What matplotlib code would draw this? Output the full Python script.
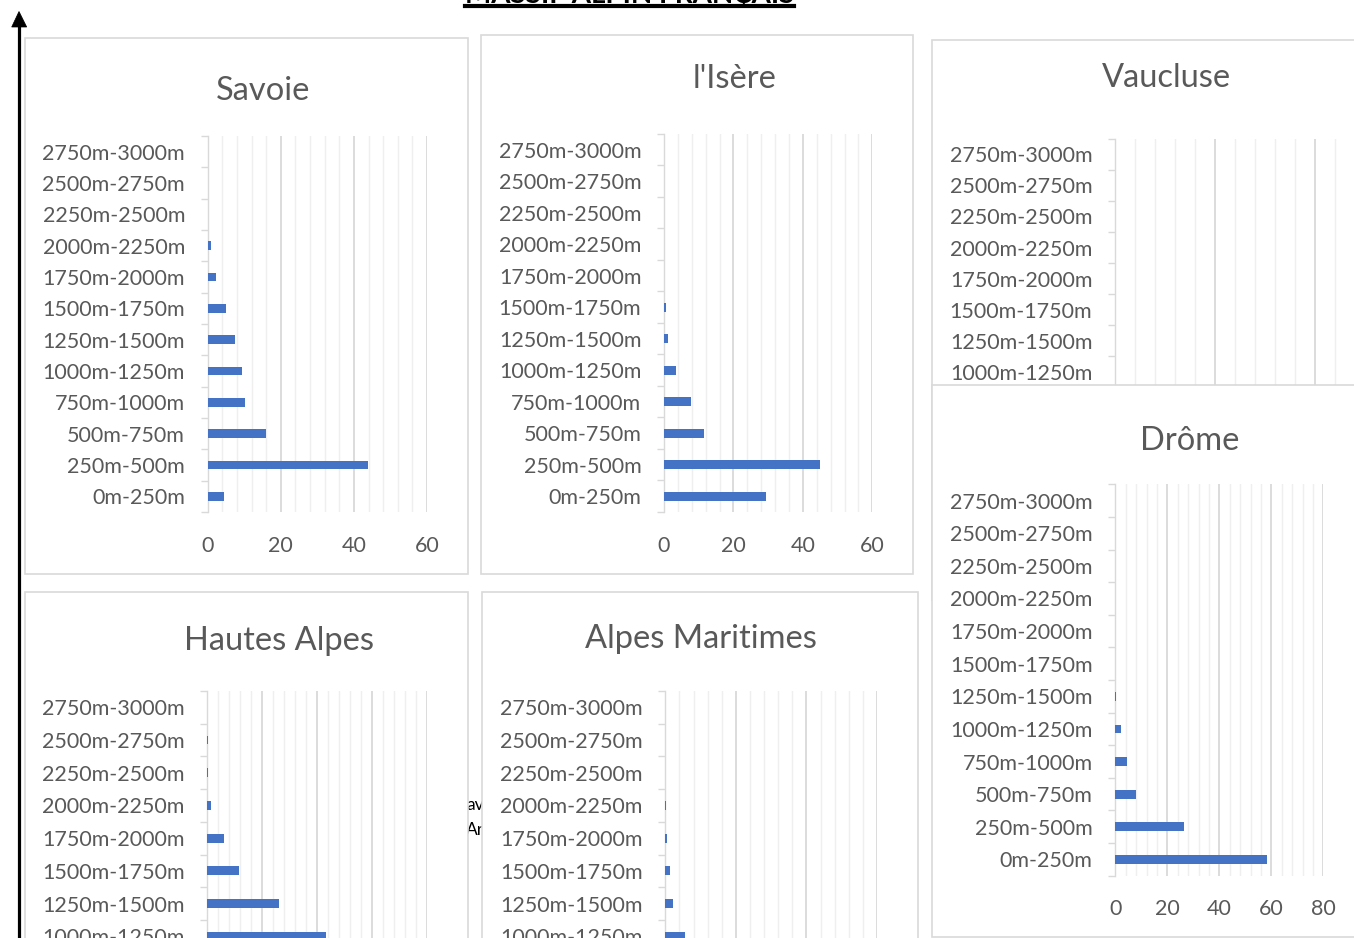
import matplotlib
matplotlib.use("Agg")
import matplotlib.pyplot as plt
from matplotlib.patches import Rectangle, Polygon
from matplotlib.lines import Line2D
import numpy as np

# ---------------- data ----------------
categories = ["0m-250m", "250m-500m", "500m-750m", "750m-1000m", "1000m-1250m",
              "1250m-1500m", "1500m-1750m", "1750m-2000m", "2000m-2250m",
              "2250m-2500m", "2500m-2750m", "2750m-3000m"]
savoie = [4.5, 43.9, 16.0, 10.1, 9.4, 7.5, 5.0, 2.4, 0.8, 0.2, 0, 0]
isere = [29.3, 44.8, 11.6, 7.8, 3.6, 1.2, 0.5, 0.1, 0, 0, 0, 0]
vaucluse = [55, 35, 8, 2, 0, 0, 0, 0, 0, 0, 0, 0]
drome = [58.2, 26.3, 8.1, 4.6, 2.1, 0.1, 0, 0, 0, 0, 0, 0]
hautes_alpes = [2, 7, 18, 28, 21.7, 13.1, 5.8, 3.0, 0.7, 0.2, 0.1, 0]
alpes_maritimes = [44, 22, 14, 9, 5.7, 2.2, 1.4, 0.5, 0.2, 0, 0, 0]
main_title = "MASSIF ALPIN FRANÇAIS"
panel_titles = ["Savoie", "l'Isère", "Vaucluse", "Drôme", "Hautes Alpes", "Alpes Maritimes"]
panel_data = [savoie, isere, vaucluse, drome, hautes_alpes, alpes_maritimes]
panel_xmax = [60, 60, 60, 80, 40, 60]
panel_major = [20, 20, 20, 20, 10, 20]

# ---------------- layout (pixels, top-left origin) ----------------
W, H = 1354, 938
FONT = "Lato"
TXT = "#595959"
BAR = "#4472C4"
GRID_MAJ = "#d9d9d9"
GRID_MIN = "#efefef"

cards = [(25, 38, 468, 574), (481, 35, 913, 574), (932, 40, 1380, 600),
         (932, 385, 1380, 936.7), (25, 592, 468, 960), (482, 592, 918, 960)]
axes_px = [(207.7, 136, 427, 512), (664, 134, 872.3, 512), (1115, 138.7, 1415, 512),
           (1115.3, 484.3, 1323.3, 875.7), (207.3, 691, 427, 1083.4),
           (665.3, 691, 877, 1083.4)]
title_pos = [(263, 100), (734.5, 88.3), (1166, 86.7), (1189.5, 450), (279.5, 650), (700.5, 648)]
# x labels visible only where they lie inside the picture and are not hidden by another card
show_xlabels = [True, True, False, True, False, False]
# category rows that lie hidden (behind the Drôme card, or below the picture's edge)
hidden_rows = [[], [], [0, 1, 2, 3], [], [0, 1, 2, 3], [0, 1, 2, 3]]

fig = plt.figure(figsize=(W / 100, H / 100), dpi=100)
fig.patch.set_facecolor("white")


def fx(x):
    return x / W


def fy(y):
    return 1 - y / H


# fragments of a legend behind the charts
fig.text(fx(466), fy(805), "av", color="black", fontsize=12.5, family=FONT,
         ha="left", va="center", zorder=8.5)
fig.text(fx(466), fy(830), "Ar", color="black", fontsize=12.5, family=FONT,
         ha="left", va="center", zorder=8.5)

y = np.arange(len(categories))
for i in range(6):
    zc = 1 + 2 * i
    x0, y0, x1, y1 = cards[i]
    fig.add_artist(Rectangle((fx(x0), fy(y1)), (x1 - x0) / W, (y1 - y0) / H,
                             transform=fig.transFigure, facecolor="white",
                             edgecolor=GRID_MAJ, lw=1.2, zorder=zc))
    L, T, R, B = axes_px[i]
    ax = fig.add_axes([fx(L), fy(B), (R - L) / W, (B - T) / H], zorder=zc + 0.5)
    ax.patch.set_visible(False)
    ax.barh(y, panel_data[i], height=0.27, color=BAR, zorder=3)
    xm, mj = panel_xmax[i], panel_major[i]
    ax.set_xlim(0, xm)
    ax.set_ylim(-0.5, len(categories) - 0.5)
    ax.set_xticks(np.arange(0, xm + 0.01, mj))
    ax.set_xticks(np.arange(0, xm + 0.01, mj / 5), minor=True)
    ax.grid(axis="x", which="minor", color=GRID_MIN, lw=1.0)
    ax.grid(axis="x", which="major", color=GRID_MAJ, lw=1.3)
    ax.set_axisbelow(True)
    ax.set_yticks(y)
    labels = [("" if k in hidden_rows[i] else c) for k, c in enumerate(categories)]
    ax.set_yticklabels(labels, family=FONT)
    ax.set_yticks(np.arange(-0.5, len(categories), 1), minor=True)
    ax.tick_params(axis="y", which="major", length=0, pad=16.3, labelsize=15.5, labelcolor=TXT)
    ax.tick_params(axis="y", which="minor", length=5, width=1, color=GRID_MAJ)
    ax.tick_params(axis="x", which="both", length=0, pad=17, labelsize=15.5, labelcolor=TXT,
                   labelbottom=show_xlabels[i])
    for lab in ax.get_xticklabels():
        lab.set_family(FONT)
    for s in ["top", "right", "bottom"]:
        ax.spines[s].set_visible(False)
    ax.spines["left"].set_color(GRID_MAJ)
    ax.spines["left"].set_linewidth(1.0)
    tx, ty = title_pos[i]
    fig.text(fx(tx), fy(ty), panel_titles[i], ha="center", va="baseline",
             fontsize=23.5, color=TXT, family=FONT, zorder=zc + 0.7)

# main title (cut off at top) with underline
t = fig.text(fx(629.5), fy(2.5), main_title, ha="center", va="baseline",
             fontsize=18, weight="bold", family=FONT, color="black", zorder=30)
fig.canvas.draw()
w = t.get_window_extent(fig.canvas.get_renderer()).width
t.set_fontsize(18 * 329 / w)
fig.add_artist(Line2D([fx(465), fx(794)], [fy(5.8), fy(5.8)], transform=fig.transFigure,
                      color="black", lw=3.0, zorder=30))

# vertical arrow on the left
fig.add_artist(Line2D([fx(19), fx(19)], [fy(940), fy(26)], transform=fig.transFigure,
                      color="black", lw=2.3, zorder=30))
fig.add_artist(Polygon([(fx(11.7), fy(27)), (fx(26.7), fy(27)), (fx(19), fy(11.5))],
                       closed=True, transform=fig.transFigure, facecolor="black",
                       edgecolor="black", lw=0.5, zorder=30))

fig.savefig("out.png", dpi=100, facecolor="white")
